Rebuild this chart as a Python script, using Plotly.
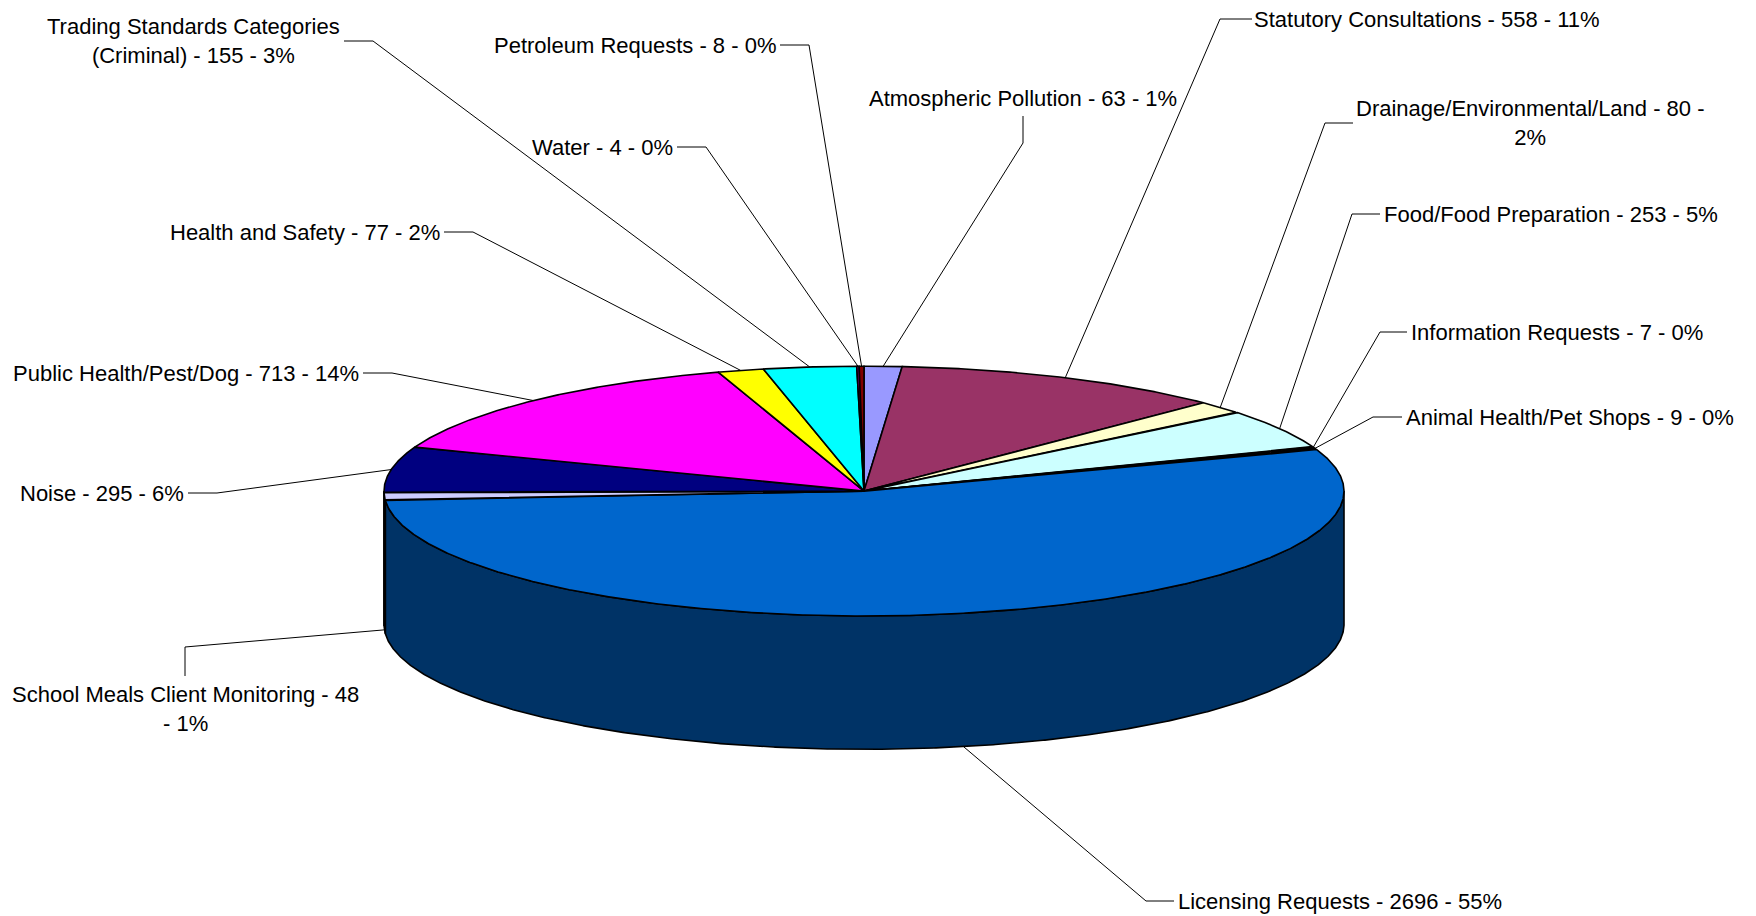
import numpy as np
import plotly.graph_objects as go

# ---------------- data ----------------
categories = [
    "Atmospheric Pollution", "Statutory Consultations", "Drainage/Environmental/Land",
    "Food/Food Preparation", "Information Requests", "Animal Health/Pet Shops",
    "Licensing Requests", "School Meals Client Monitoring", "Noise",
    "Public Health/Pest/Dog", "Health and Safety",
    "Trading Standards Categories (Criminal)", "Water", "Petroleum Requests",
]
values = [63, 558, 80, 253, 7, 9, 2696, 48, 295, 713, 77, 155, 4, 8]
percent_labels = ["1%", "11%", "2%", "5%", "0%", "0%", "55%", "1%", "6%", "14%", "2%", "3%", "0%", "0%"]
colors = ["#9999FF", "#993366", "#FFFFCC", "#CCFFFF", "#660066", "#FF8080", "#0066CC",
          "#CCCCFF", "#000080", "#FF00FF", "#FFFF00", "#00FFFF", "#800080", "#800000"]

# ---------------- layout (pixel space) ----------------
W, H = 1756, 916
CX, CY, RX, RY, DEPTH = 864.0, 491.1, 480.0, 124.9, 133.3

# label placement: elbow, leader end, text position, anchor, line-break rule
label_layout = {
    "Atmospheric Pollution": dict(elbow=(1023, 143), end=(1023, 116), pos=(1023, 98), xa="center", brk=None),
    "Statutory Consultations": dict(elbow=(1220, 19), end=(1252, 19), pos=(1254, 19), xa="left", brk=None),
    "Drainage/Environmental/Land": dict(elbow=(1325, 123), end=(1353, 123), pos=(1530, 122.5), xa="center", brk=("80 - ", "80 -<br>")),
    "Food/Food Preparation": dict(elbow=(1352, 214), end=(1380, 214), pos=(1384, 214), xa="left", brk=None),
    "Information Requests": dict(elbow=(1380, 332), end=(1407, 332), pos=(1411, 332), xa="left", brk=None),
    "Animal Health/Pet Shops": dict(elbow=(1373, 417), end=(1402, 417), pos=(1406, 417), xa="left", brk=None),
    "Licensing Requests": dict(elbow=(1146, 901), end=(1174, 901), pos=(1178, 901), xa="left", brk=None),
    "School Meals Client Monitoring": dict(elbow=(185, 647), end=(185, 676), pos=(185, 708.5), xa="center", brk=("48 - ", "48<br>- ")),
    "Noise": dict(elbow=(217, 493), end=(188, 493), pos=(184, 493), xa="right", brk=None),
    "Public Health/Pest/Dog": dict(elbow=(392, 373), end=(363, 373), pos=(359, 373), xa="right", brk=None),
    "Health and Safety": dict(elbow=(473, 232), end=(444, 232), pos=(440, 232), xa="right", brk=None),
    "Trading Standards Categories (Criminal)": dict(elbow=(373, 41), end=(344, 41), pos=(193.5, 41), xa="center", brk=("Categories ", "Categories<br>")),
    "Water": dict(elbow=(706, 147), end=(677, 147), pos=(673, 147), xa="right", brk=None),
    "Petroleum Requests": dict(elbow=(809, 45), end=(780, 45), pos=(776, 45), xa="right", brk=None),
}


def darker(hexcol, f=0.5):
    h = hexcol.lstrip("#")
    r, g, b = (int(h[i:i + 2], 16) for i in (0, 2, 4))
    return "rgb(%d,%d,%d)" % (r * f, g * f, b * f)


def pt(theta_deg, drop=0.0):
    t = np.radians(theta_deg)
    return CX + RX * np.sin(t), CY - RY * np.cos(t) + drop


total = float(sum(values))
cum = np.concatenate([[0.0], np.cumsum(values)]) / total * 360.0

fig = go.Figure()

# side walls (front half only: 90..270 degrees clockwise from top)
for i, c in enumerate(categories):
    a0, a1 = cum[i], cum[i + 1]
    s, e = max(a0, 90.0), min(a1, 270.0)
    if e <= s:
        continue
    th = np.linspace(s, e, max(4, int((e - s) * 4)))
    xt, yt = pt(th)
    xb, yb = pt(th[::-1], DEPTH)
    xs = np.concatenate([xt, xb, xt[:1]])
    ys = np.concatenate([yt, yb, yt[:1]])
    fig.add_trace(go.Scatter(x=xs, y=ys, mode="lines", fill="toself",
                             fillcolor=darker(colors[i]),
                             line=dict(color="black", width=1.6),
                             hoverinfo="skip", showlegend=False))

# top faces
for i, c in enumerate(categories):
    a0, a1 = cum[i], cum[i + 1]
    th = np.linspace(a0, a1, max(3, int((a1 - a0) * 4)))
    xa, ya = pt(th)
    xs = np.concatenate([[CX], xa, [CX]])
    ys = np.concatenate([[CY], ya, [CY]])
    fig.add_trace(go.Scatter(x=xs, y=ys, mode="lines", fill="toself",
                             fillcolor=colors[i],
                             line=dict(color="black", width=1.6),
                             hoverinfo="skip", showlegend=False))

# leader lines and labels
for i, c in enumerate(categories):
    L = label_layout[c]
    mid = (cum[i] + cum[i + 1]) / 2.0
    drop = DEPTH if np.cos(np.radians(mid)) < 0 else 0.0
    ax_, ay_ = pt(mid, drop)
    fig.add_trace(go.Scatter(x=[ax_, L["elbow"][0], L["end"][0]],
                             y=[ay_, L["elbow"][1], L["end"][1]],
                             mode="lines", line=dict(color="black", width=1),
                             hoverinfo="skip", showlegend=False))
    text = "%s - %d - %s" % (c, values[i], percent_labels[i])
    if L["brk"]:
        text = text.replace(L["brk"][0], L["brk"][1], 1)
    fig.add_annotation(x=L["pos"][0], y=L["pos"][1], xref="x", yref="y",
                       text=text, showarrow=False, xanchor=L["xa"], yanchor="middle",
                       align="center", borderpad=0, borderwidth=0,
                       font=dict(family="Liberation Sans, Arial, sans-serif", size=22, color="black"))

fig.update_layout(
    width=W, height=H, autosize=False,
    margin=dict(l=0, r=0, t=0, b=0),
    paper_bgcolor="white", plot_bgcolor="white",
    xaxis=dict(range=[0, W], visible=False, fixedrange=True),
    yaxis=dict(range=[H, 0], visible=False, fixedrange=True),
    showlegend=False,
)

fig.write_html("out.html", config={"displayModeBar": False},
               post_script="document.body.style.margin='0';document.body.style.overflow='hidden';")
